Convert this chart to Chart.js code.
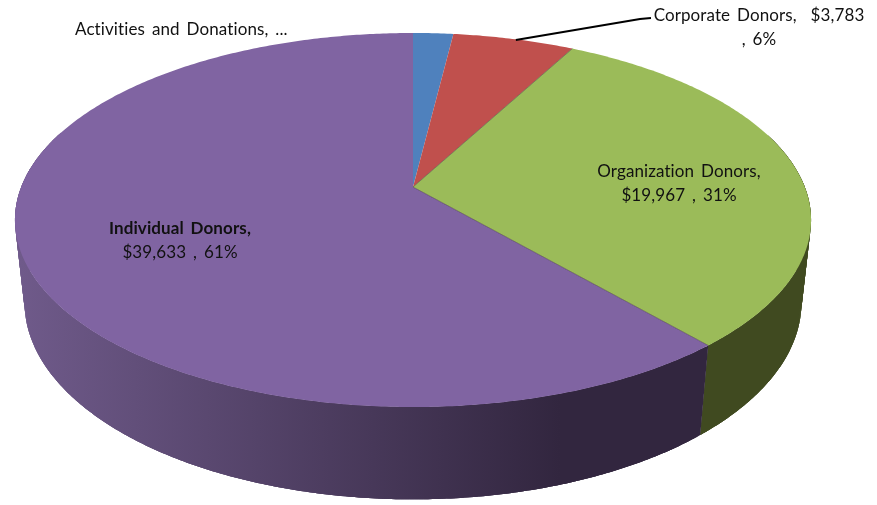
<!DOCTYPE html>
<html><head><meta charset="utf-8">
<script src="https://cdn.jsdelivr.net/npm/chart.js@4"></script>
<style>html,body{margin:0;padding:0;background:#fff}#w{width:877px;height:505px}</style>
</head><body><div id="w"><canvas id="c" width="877" height="505"></canvas></div>
<script>
const categories = ["Activities and Donations", "Corporate Donors", "Organization Donors", "Individual Donors"];
const amounts = [1250, 3783, 19967, 39633];
const topColors = ["#4f81bd", "#c0504d", "#9bbb59", "#8064a2"];
const sideStart = ["#2f4d71", "#733030", "#404a20", "#6f5a8a"];
const sideEnd = ["#2f4d71", "#733030", "#404a20", "#32263f"];
const labelLines = [
  ["Activities and Donations, ..."],
  ["Corporate Donors,  $3,783", ", 6%"],
  ["Organization Donors,", "$19,967 , 31%"],
  ["Individual Donors,", "$39,633 , 61%"]
];
const labelAt = [[75, 35, "left"], [759, 21, "center"], [679, 177, "center"], [180, 234, "center"]];

// Perspective projection of the disc (a circle of unit radius seen from above).
const view = {cx: 413, R: 391.8, k: 0.1765, topA: 187, B: -148.2, botA: 275, d: 0.024};
function proj(a, level) {
  const u = Math.cos(a), v = -Math.sin(a);
  const w = 1 + view.k * v + (level ? view.d : 0);
  return [view.cx + view.R * u / w, ((level ? view.botA : view.topA) + view.B * v) / w];
}
function rim(ctx, a0, a1, level, move) {
  const n = Math.max(2, Math.ceil(Math.abs(a1 - a0) / 0.01));
  for (let i = 0; i <= n; i++) {
    const p = proj(a0 + (a1 - a0) * i / n, level);
    (i === 0 && move) ? ctx.moveTo(p[0], p[1]) : ctx.lineTo(p[0], p[1]);
  }
}
const pie3d = {
  id: "pie3d",
  beforeDatasetsDraw(chart) {
    const ctx = chart.ctx, arcs = chart.getDatasetMeta(0).data;
    ctx.save();
    arcs.forEach((arc, i) => {
      const a0 = arc.startAngle, a1 = arc.endAngle;
      const g = ctx.createLinearGradient(20, 0, 560, 0);
      g.addColorStop(0, sideStart[i]); g.addColorStop(1, sideEnd[i]);
      ctx.fillStyle = g;
      const n = Math.max(2, Math.ceil((a1 - a0) / 0.01));
      const step = (a1 - a0) / n;
      for (let s = 0; s < n; s++) {
        const b0 = a0 + step * s, b1 = Math.min(a1, b0 + step * 3);
        if (Math.sin(b0 + step / 2) < -0.3) continue; // far side stays hidden
        ctx.beginPath();
        rim(ctx, b0, b1, 0, true);
        rim(ctx, b1, b0, 1, false);
        ctx.closePath(); ctx.fill();
      }
    });
    arcs.forEach((arc, i) => {
      ctx.beginPath();
      ctx.moveTo(view.cx, view.topA);
      rim(ctx, arc.startAngle, arc.endAngle, 0, false);
      ctx.closePath();
      ctx.fillStyle = topColors[i]; ctx.fill();
    });
    // faint dark edge where slices meet
    ctx.strokeStyle = "rgba(50,40,40,0.45)"; ctx.lineWidth = 1;
    [2, 3].forEach(i => {
      const p = proj(arcs[i].startAngle, 0);
      ctx.beginPath(); ctx.moveTo(view.cx, view.topA); ctx.lineTo(p[0], p[1]); ctx.stroke();
    });
    ctx.restore();
    return false;
  },
  afterDraw(chart) {
    const ctx = chart.ctx, arcs = chart.getDatasetMeta(0).data;
    ctx.save();
    // leader line of the Corporate Donors label
    const mid = (arcs[1].startAngle + arcs[1].endAngle) / 2, s = proj(mid, 0);
    ctx.strokeStyle = "#000"; ctx.lineWidth = 2;
    ctx.beginPath(); ctx.moveTo(s[0] + 2, s[1] + 1); ctx.lineTo(640, 19); ctx.lineTo(651, 18); ctx.stroke();
    ctx.fillStyle = "#111"; ctx.textBaseline = "alphabetic";
    ctx.letterSpacing = "0.1px"; ctx.wordSpacing = "2.5px";
    labelLines.forEach((lines, i) => {
      const [x, y, al] = labelAt[i];
      ctx.textAlign = al;
      lines.forEach((t, j) => {
        ctx.font = (i === 3 && j === 0 ? "bold " : "") + "17px Lato";
        ctx.fillText(t, x, y + j * 23.5);
      });
    });
    ctx.restore();
  }
};
new Chart(document.getElementById("c"), {
  type: "pie",
  data: {labels: categories, datasets: [{data: amounts, backgroundColor: topColors}]},
  options: {
    responsive: false, animation: false,
    plugins: {legend: {display: false}, tooltip: {enabled: false}}
  },
  plugins: [pie3d]
});
</script></body></html>
